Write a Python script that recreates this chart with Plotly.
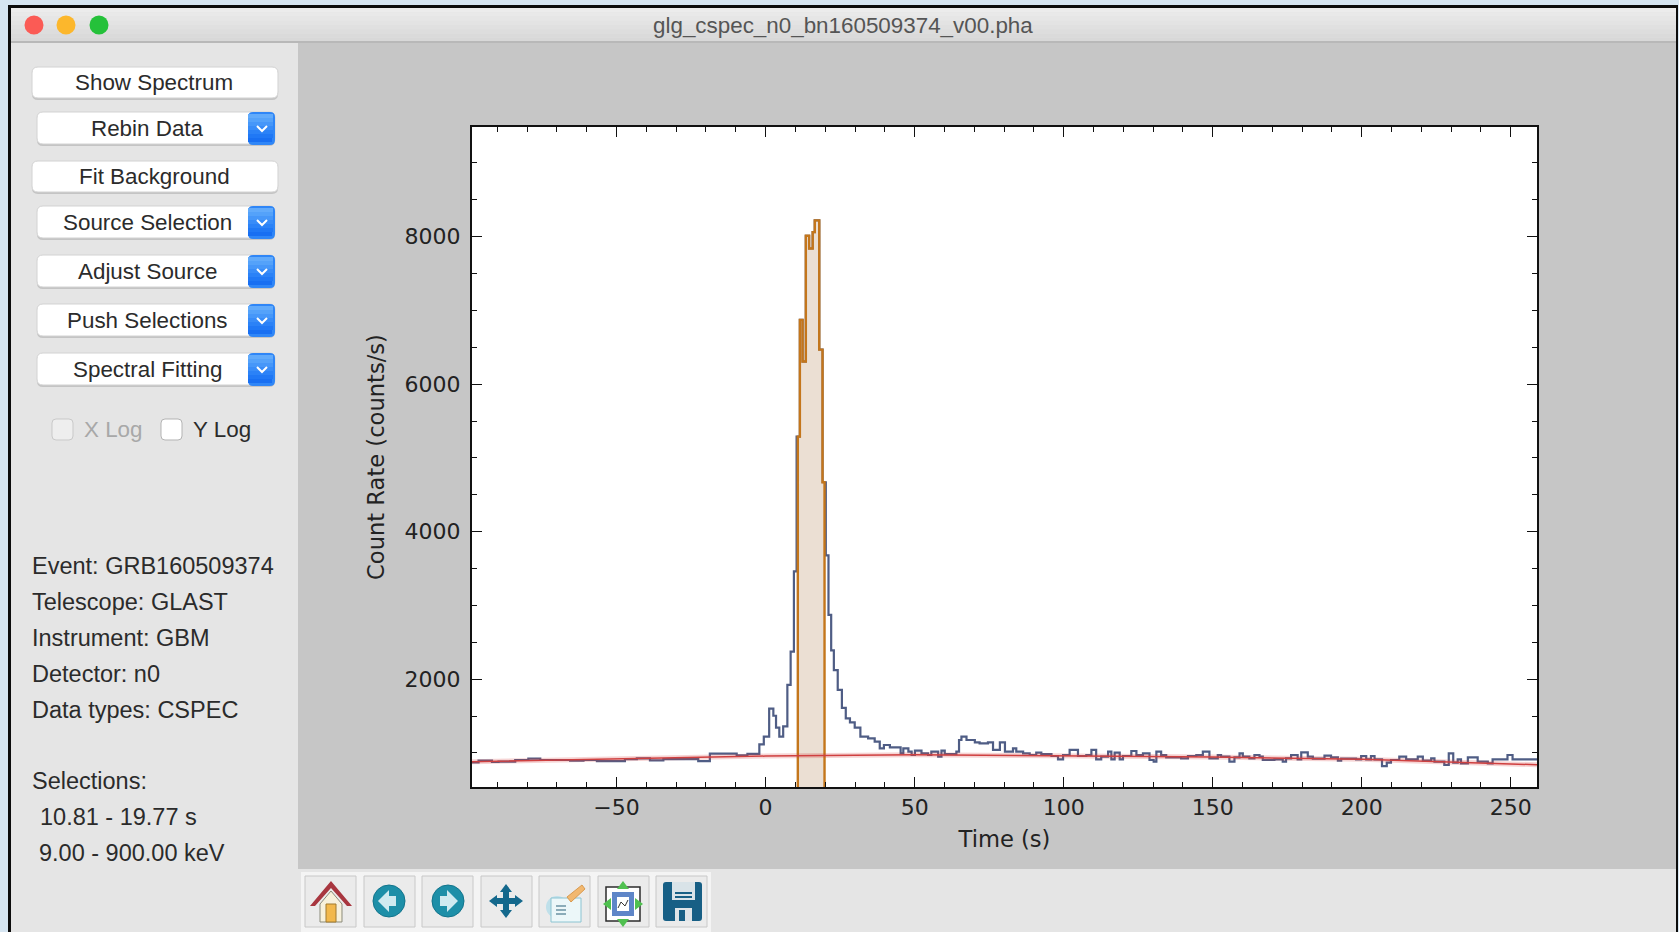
import plotly.graph_objects as go

W = 1679
H = 932

# bin start times, last entry closes the last bin
time_edges = [-98.5, -96.3, -91.8, -89.6, -84, -79.6, -75.6, -65.6, -61.1, -56.6, -47.2, -43.2, -38.8, -34.3,
              -22.6, -18.7, -9.7, -6.1, -2.1, -0.6, 1.2, 2.6, 3.5, 4.6, 5.9, 7.3, 8.4, 9.5, 10.4, 11.5, 12.4,
              13.5, 14.6, 15.8, 16.5, 18, 19.1, 20.2, 21.1, 22, 22.9, 24.2, 25.6, 26.9, 28.3, 29.9, 31.8, 34.4,
              36.6, 38.3, 39.7, 41.7, 45.3, 46.2, 47.9, 49, 50.1, 52.3, 54.5, 55.6, 57.9, 59, 60.1, 64, 64.9,
              65.7, 67.4, 70.2, 71.8, 74.6, 76.3, 78.6, 80.3, 83, 84.1, 86.4, 88.6, 90.8, 92.5, 95.9, 98.1,
              99.8, 102, 104.8, 107.6, 109.3, 110.9, 112.6, 114.9, 116, 117.1, 118.8, 119.9, 122.7, 124.4,
              126.6, 128.8, 130.2, 131.1, 132.7, 134.4, 139.4, 141.7, 144.5, 146.7, 148.9, 151.7, 152.8, 155.6,
              157.3, 159, 160.1, 162.3, 164, 165.7, 166.8, 170.7, 173.5, 174.6, 176.3, 178.5, 179.7, 181.9,
              183.6, 187.5, 189.7, 192, 193.1, 198.1, 199.8, 201.5, 203.1, 204.3, 206.8, 208.4, 209.8, 212.6,
              214.9, 218.8, 220.5, 223.3, 224.4, 227.7, 229.2, 230.7, 232.2, 233.3, 235.6, 238.9, 242.3, 243.9,
              248.9, 250.6, 258.8]
count_rate = [874, 896, 878, 882, 905, 923, 905, 896, 905, 891, 918, 928, 901, 918,
              891, 991, 968, 987, 1118, 1221, 1601, 1505, 1345, 1221, 1361, 1923, 2374, 3463, 5288, 6870, 6306,
              8010, 7838, 8060, 8220, 6468, 4670, 3678, 2872, 2391, 2122, 1855, 1612, 1468, 1414, 1345, 1221, 1199,
              1154, 1063, 1108, 1077, 995, 1063, 1018, 973, 1032, 995, 973, 1018, 950, 1032, 985, 1018, 1176,
              1221, 1176, 1145, 1131, 1145, 1041, 1145, 1018, 1063, 1018, 995, 973, 1004, 986, 959, 914,
              973, 1041, 959, 973, 1041, 914, 950, 1018, 914, 1004, 914, 959, 1027, 973,
              995, 905, 882, 1018, 973, 941, 927, 959, 973, 1018, 927, 973, 950, 882,
              941, 995, 950, 927, 973, 950, 905, 914, 882, 927, 973, 914, 1009, 950,
              923, 964, 941, 896, 923, 914, 959, 914, 959, 914, 823, 869, 905, 950,
              914, 950, 896, 927, 882, 837, 995, 869, 914, 860, 941, 882, 860, 914,
              973, 914]

bg_time = [-98.5, -50, 0, 50, 100, 150, 200, 258.8]
bg_rate = [882, 918, 958, 975, 965, 945, 914, 841]

sel_start = 10.81
sel_stop = 19.77

x_ticks = [-50, 0, 50, 100, 150, 200, 250]
y_ticks = [2000, 4000, 6000, 8000]

plain_buttons = [("Show Spectrum", 67), ("Fit Background", 161)]
menu_buttons = [("Rebin Data", 112), ("Source Selection", 206), ("Adjust Source", 255),
                ("Push Selections", 304), ("Spectral Fitting", 353)]
info_lines = [("Event: GRB160509374", 30, 566), ("Telescope: GLAST", 30, 602), ("Instrument: GBM", 30, 638),
              ("Detector: n0", 30, 674), ("Data types: CSPEC", 30, 710), ("Selections:", 30, 781),
              ("10.81 - 19.77 s", 38, 817), ("9.00 - 900.00 keV", 37, 853)]

GUI_FONT = "Liberation Sans"
PLOT_FONT = "DejaVu Sans"


def px(x):
    return x / W


def py(y):
    return 1 - y / H


shapes = []
notes = []


def rect(x0, y0, x1, y1, fill, line=None, width=1):
    shapes.append(dict(type="rect", xref="paper", yref="paper", x0=px(x0), y0=py(y0), x1=px(x1), y1=py(y1),
                       fillcolor=fill, line=dict(color=line, width=width if line else 0), layer="below"))


def circle(cx, cy, r, fill, line=None):
    shapes.append(dict(type="circle", xref="paper", yref="paper", x0=px(cx - r), y0=py(cy - r), x1=px(cx + r),
                       y1=py(cy + r), fillcolor=fill, line=dict(color=line, width=1 if line else 0), layer="below"))


def poly(points, fill=None, line=None, width=1):
    d = "M" + " L".join(f"{px(a):.5f},{py(b):.5f}" for a, b in points)
    if fill:
        d += " Z"
    shapes.append(dict(type="path", xref="paper", yref="paper", path=d, fillcolor=fill,
                       line=dict(color=line, width=width if line else 0), layer="below"))


def rounded(x0, y0, x1, y1, r, fill, line=None):
    fx = lambda v: f"{px(v):.5f}"
    fy = lambda v: f"{py(v):.5f}"
    d = (f"M{fx(x0 + r)},{fy(y0)} L{fx(x1 - r)},{fy(y0)} Q{fx(x1)},{fy(y0)} {fx(x1)},{fy(y0 + r)} "
         f"L{fx(x1)},{fy(y1 - r)} Q{fx(x1)},{fy(y1)} {fx(x1 - r)},{fy(y1)} L{fx(x0 + r)},{fy(y1)} "
         f"Q{fx(x0)},{fy(y1)} {fx(x0)},{fy(y1 - r)} L{fx(x0)},{fy(y0 + r)} Q{fx(x0)},{fy(y0)} {fx(x0 + r)},{fy(y0)} Z")
    shapes.append(dict(type="path", xref="paper", yref="paper", path=d, fillcolor=fill,
                       line=dict(color=line, width=1 if line else 0), layer="below"))


def text(s, x, y, size=22.4, color="#2b2b2b", anchor="left", family=GUI_FONT):
    notes.append(dict(text=s, x=px(x), y=py(y), xref="paper", yref="paper", showarrow=False, xanchor=anchor,
                      yanchor="middle", align=anchor, font=dict(family=family, size=size, color=color)))


# window chrome
rect(8, 5, 1678, 932, "#0c0c0c")
rect(11, 8, 1676, 932, "#e5e5e5")
title_shades = ["#ececec", "#e9e9e9", "#e6e6e6", "#e3e3e3", "#e0e0e0", "#dddddd", "#dadada", "#d8d8d8"]
for i, shade in enumerate(title_shades):
    rect(11, 8 + i * 4.25, 1676, 8 + (i + 1) * 4.25, shade)
rect(11, 41, 1676, 43, "#b8b8b8")
rect(298, 43, 1676, 869, "#c6c6c6")
rect(472, 127, 1537, 787, "#ffffff")
rect(301, 872, 711, 932, "#f4f4f4")
circle(34, 25, 9.5, "#fb5b55")
circle(66, 25, 9.5, "#fcb72c")
circle(99, 25, 9.5, "#25c13a")
text("glg_cspec_n0_bn160509374_v00.pha", 843, 25, size=22.4, color="#555555", anchor="center")

# side panel buttons
for label, top in plain_buttons:
    rounded(32, top + 1, 278, top + 33, 6, "#c4c4c4")
    rounded(32, top, 278, top + 31, 6, "#ffffff", "#d2d2d2")
    text(label, 154, top + 15, anchor="center")

blue_shades = ["#62abfb", "#54a2fa", "#4697f9", "#388cf8", "#2b82f7", "#2078f5", "#186ff2"]
for label, top in menu_buttons:
    rounded(37, top + 1, 275, top + 34, 6, "#c4c4c4")
    rounded(37, top, 275, top + 32, 6, "#ffffff", "#d2d2d2")
    rounded(248, top, 275, top + 33, 5, "#2f86f7")
    for i, shade in enumerate(blue_shades):
        rect(248, top + 2 + i * 4, 273 if i < 6 else 272, top + 2 + (i + 1) * 4, shade)
    poly([(257, top + 14), (262, top + 19), (267, top + 14)], line="#ffffff", width=2)
    text(label, 147, top + 16, anchor="center")

rounded(52, 419, 73, 440, 4, "#eeeeee", "#c9c9c9")
text("X Log", 82, 429, color="#a8a8a8")
rounded(161, 419, 182, 440, 4, "#ffffff", "#b4b4b4")
text("Y Log", 191, 429)

for label, x, y in info_lines:
    text(label, x, y, size=23.5)

# toolbar
for left in [305, 364, 422, 481, 539, 598, 656]:
    rect(left, 876, left + 51, 927, "#ebebeb", "#c8c8c8")

poly([(331, 881), (352, 906), (347, 906), (331, 888), (315, 906), (310, 906)], fill="#a8363f")
poly([(320, 904), (331, 891), (342, 904), (342, 922), (320, 922)], fill="#f7f1dc", line="#8a8a7a")
rect(326, 904, 336, 922, "#f2b84b", "#a07a30")

circle(389, 901, 16, "#1d8fa8", "#12748c")
poly([(396, 896), (389, 896), (389, 890), (378, 901), (389, 912), (389, 906), (396, 906)], fill="#cfeaf0")
circle(448, 901, 16, "#1d8fa8", "#12748c")
poly([(440, 896), (447, 896), (447, 890), (458, 901), (447, 912), (447, 906), (440, 906)], fill="#cfeaf0")

poly([(506, 884), (512, 892), (509, 892), (509, 898), (515, 898), (515, 895), (523, 901), (515, 907), (515, 904),
      (509, 904), (509, 910), (512, 910), (506, 918), (500, 910), (503, 910), (503, 904), (497, 904), (497, 907),
      (489, 901), (497, 895), (497, 898), (503, 898), (503, 892), (500, 892)], fill="#14688c")

circle(557, 907, 11, "#bfe0ea")
rect(551, 898, 581, 922, "#ecf7f9", "#8cc4d2")
poly([(567, 897), (582, 885), (585, 889), (571, 902)], fill="#f2b870", line="#d89a50")
for y in [906, 910, 914]:
    poly([(556, y), (566, y)], line="#6b93a3", width=1.5)

rect(606, 887, 640, 921, "#ffffff", "#2c2c2c", width=1.5)
rect(612, 892, 634, 916, "#5f86c8")
rect(617, 897, 629, 911, "#ffffff")
poly([(618, 908), (621, 902), (625, 906), (628, 900)], line="#333333", width=1)
poly([(623, 881), (629, 889), (617, 889)], fill="#4fc04f")
poly([(623, 927), (629, 919), (617, 919)], fill="#4fc04f")
poly([(603, 904), (611, 898), (611, 910)], fill="#4fc04f")
poly([(643, 904), (635, 898), (635, 910)], fill="#4fc04f")

rounded(663, 882, 702, 921, 3, "#175f85")
rect(672, 882, 695, 900, "#d9e3e8")
rect(675, 892, 692, 894, "#175f85")
rect(675, 896, 692, 898, "#175f85")
rect(675, 908, 692, 921, "#dfe5e8")
rect(679, 910, 685, 921, "#175f85")

# light curve as steps, closing the last bin
step_x = list(time_edges)
step_y = list(count_rate) + [count_rate[-1]]

sel_x = [sel_start]
sel_y = [0]
for i, rate in enumerate(count_rate):
    if time_edges[i + 1] > sel_start and time_edges[i] < sel_stop:
        sel_x.append(max(time_edges[i], sel_start))
        sel_y.append(rate)
sel_x += [sel_stop, sel_stop]
sel_y += [sel_y[-1], 0]

fig = go.Figure()
fig.add_trace(go.Scatter(x=step_x, y=step_y, mode="lines", line=dict(color="#4f5d85", width=2.2, shape="hv"),
                         hoverinfo="skip"))
fig.add_trace(go.Scatter(x=sel_x, y=sel_y, mode="lines", line=dict(color="#c4761b", width=2.4, shape="hv"),
                         fill="tozeroy", fillcolor="rgba(205,175,145,0.4)", hoverinfo="skip"))
fig.add_trace(go.Scatter(x=bg_time, y=bg_rate, mode="lines", line=dict(color="rgba(214,60,60,0.22)", width=5),
                         hoverinfo="skip"))
fig.add_trace(go.Scatter(x=bg_time, y=bg_rate, mode="lines", line=dict(color="#cf4040", width=1.5),
                         hoverinfo="skip"))

fig.update_layout(
    width=W, height=H,
    margin=dict(l=0, r=0, t=0, b=0),
    paper_bgcolor="#d6e5f1",
    plot_bgcolor="#ffffff",
    showlegend=False,
    shapes=shapes,
    annotations=notes,
    font=dict(family=PLOT_FONT, size=22, color="#222222"),
)
fig.update_xaxes(
    domain=[px(472), px(1537)], range=[-98.5, 258.8], tickvals=x_ticks, ticks="inside", ticklen=10, tickwidth=1,
    tickcolor="#111111", showline=True, linecolor="#111111", linewidth=2, mirror="allticks", showgrid=False,
    zeroline=False, tickfont=dict(family=PLOT_FONT, size=22, color="#222222"),
    minor=dict(dtick=10, ticks="inside", ticklen=5, tickcolor="#111111", tickwidth=1, showgrid=False),
    title=dict(text="Time (s)", standoff=12, font=dict(family=PLOT_FONT, size=22.6, color="#222222")),
)
fig.update_yaxes(
    domain=[py(787), py(127)], range=[539, 9485], tickvals=y_ticks, ticks="inside", ticklen=10, tickwidth=1,
    tickcolor="#111111", showline=True, linecolor="#111111", linewidth=2, mirror="allticks", showgrid=False,
    zeroline=False, tickformat="d", tickfont=dict(family=PLOT_FONT, size=22, color="#222222"), ticklabelstandoff=5,
    minor=dict(dtick=500, ticks="inside", ticklen=5, tickcolor="#111111", tickwidth=1, showgrid=False),
    title=dict(text="Count Rate (counts/s)", standoff=14, font=dict(family=PLOT_FONT, size=22.6, color="#222222")),
)

fig.write_html("out.html", config=dict(displayModeBar=False),
               post_script="document.body.style.margin='0';document.body.style.overflow='hidden';")
